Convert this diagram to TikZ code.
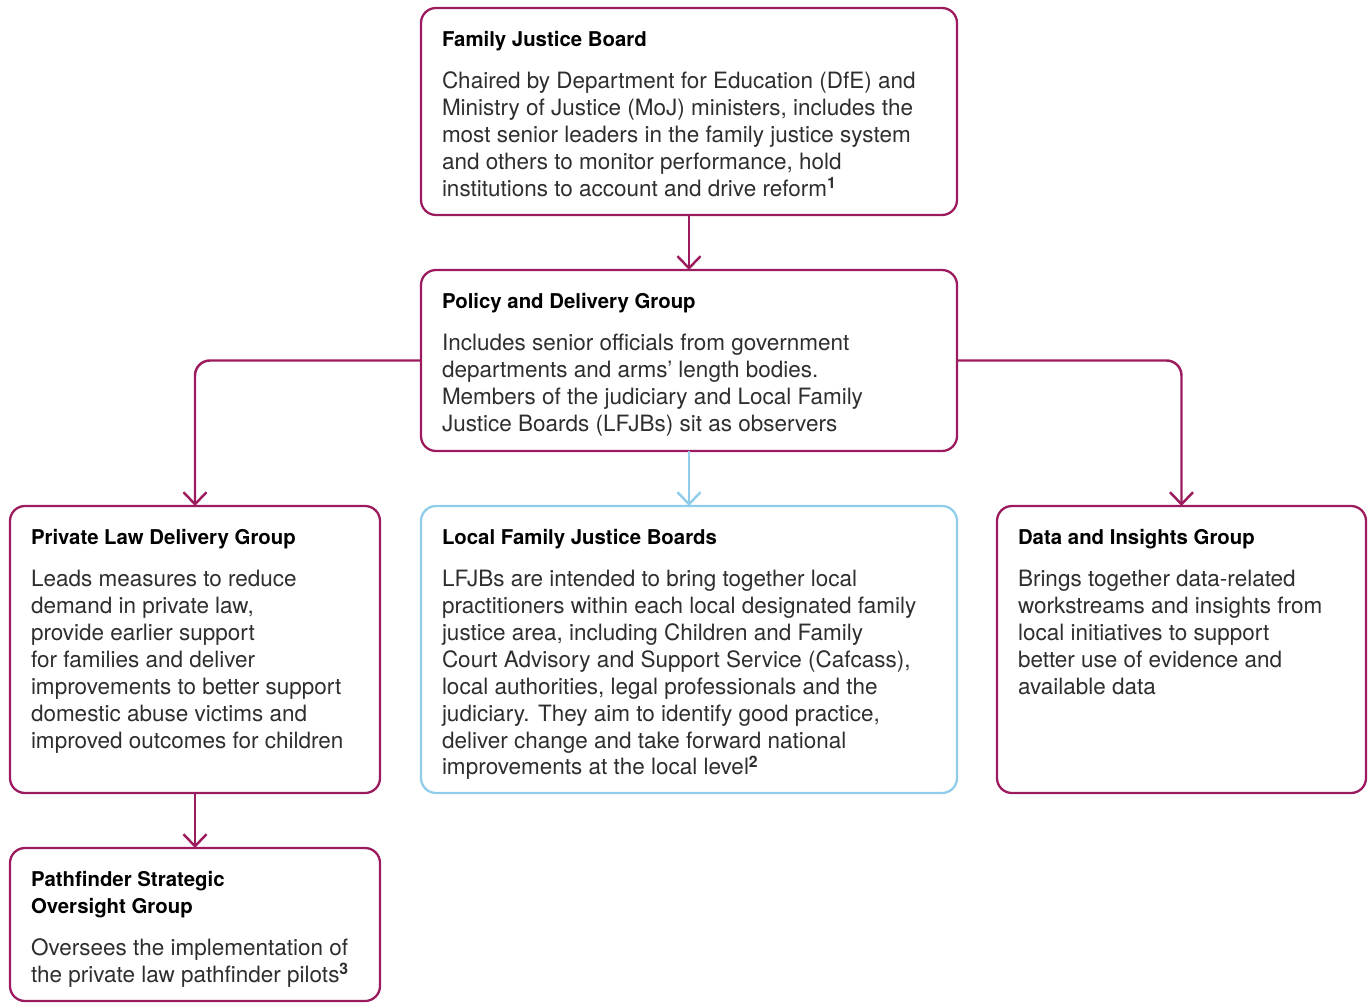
\documentclass[tikz,border=0pt]{standalone}
\usepackage{fontspec}
\setmainfont{TeX Gyre Heros}
\usetikzlibrary{positioning,arrows.meta}
\definecolor{plum}{HTML}{9C1A5E}
\definecolor{sky}{HTML}{8FCDEB}
\definecolor{bodygrey}{HTML}{2E2E2E}
% width, height, title, body
\newcommand{\grouptext}[4]{%
  \parbox[t][#2][t]{#1}{\raggedright
    {\fontsize{11.6}{15.3}\selectfont\bfseries #3\par}
    \vspace{8.6pt}
    {\fontsize{12.8}{15.3}\selectfont\color{bodygrey}#4\par}}}
\tikzset{
  group/.style={draw=plum, line width=1.3pt, rounded corners=0.3cm,
    inner xsep=0.42cm, inner ysep=0.47cm, outer sep=0pt},
  local/.style={group, draw=sky},
  link/.style={draw=plum, line width=1.4pt, rounded corners=0.3cm,
    -{Straight Barb[length=0.24cm,width=0.46cm]}},
}
\begin{document}
\begin{tikzpicture}
  \useasboundingbox (0,0) rectangle (27.44,-20.12);
  \node[group, anchor=north west] (fjb) at (8.42,-0.16)
    {\grouptext{9.88cm}{3.2cm}{Family Justice Board}
      {Chaired by Department for Education (DfE) and\\
       Ministry of Justice (MoJ) ministers, includes the\\
       most senior leaders in the family justice system\\
       and others to monitor performance, hold\\
       institutions to account and drive reform\textsuperscript{\bfseries 1}}};
  \node[group, below=1.10cm of fjb] (pdg)
    {\grouptext{9.88cm}{2.68cm}{Policy and Delivery Group}
      {Includes senior officials from government\\
       departments and arms’ length bodies.\\
       Members of the judiciary and Local Family\\
       Justice Boards (LFJBs) sit as observers}};
  \node[local, below=1.10cm of pdg] (lfjb)
    {\grouptext{9.88cm}{4.80cm}{Local Family Justice Boards}
      {LFJBs are intended to bring together local\\
       practitioners within each local designated family\\
       justice area, including Children and Family\\
       Court Advisory and Support Service (Cafcass),\\
       local authorities, legal professionals and the\\
       judiciary. They aim to identify good practice,\\
       deliver change and take forward national\\
       improvements at the local level\textsuperscript{\bfseries 2}}};
  \node[group, left=0.82cm of lfjb] (pldg)
    {\grouptext{6.56cm}{4.80cm}{Private Law Delivery Group}
      {Leads measures to reduce\\
       demand in private law,\\
       provide earlier support\\
       for families and deliver\\
       improvements to better support\\
       domestic abuse victims and\\
       improved outcomes for children}};
  \node[group, right=0.80cm of lfjb] (dig)
    {\grouptext{6.54cm}{4.80cm}{Data and Insights Group}
      {Brings together data-related\\
       workstreams and insights from\\
       local initiatives to support\\
       better use of evidence and\\
       available data}};
  \node[group, below=1.10cm of pldg] (psog)
    {\grouptext{6.56cm}{2.12cm}{Pathfinder Strategic\\Oversight Group}
      {Oversees the implementation of\\
       the private law pathfinder pilots\textsuperscript{\bfseries 3}}};

  % connectors
  \draw[link] (fjb) -- (pdg);
  \draw[link, draw=sky] (pdg) -- (lfjb);
  \draw[link] (pdg.west) -| (pldg.north);
  \draw[link] (pdg.east) -| (dig.north);
  \draw[link] (pldg) -- (psog);
\end{tikzpicture}
\end{document}
